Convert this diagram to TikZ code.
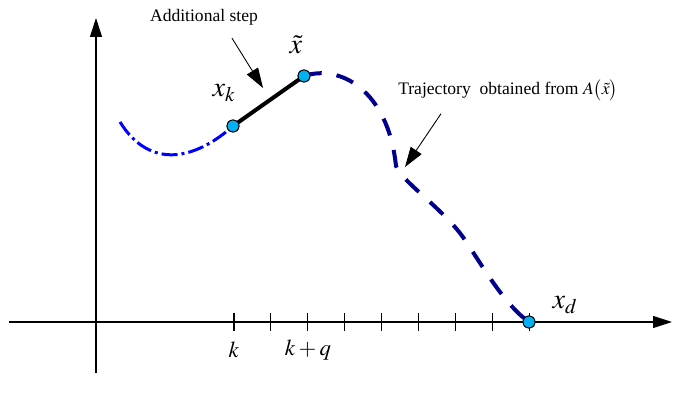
\documentclass[tikz,border=0pt]{standalone}
\usepackage{mathptmx}
\usepackage{fontspec}
\setmainfont{Liberation Serif}
\newfontfamily\notefont{Liberation Serif}
\usetikzlibrary{arrows.meta, positioning, calc}

\definecolor{ptfill}{RGB}{0,176,240}
\definecolor{trajnavy}{RGB}{0,0,140}
\definecolor{trajblue}{RGB}{0,0,255}

\begin{document}
\begin{tikzpicture}[
		x=0.02cm, y=-0.02cm,
		% Estilos
		axis/.style = {line width=0.6pt, -{Triangle[length=0.38cm, width=0.24cm]}},
		tick/.style = {line width=0.6pt},
		point/.style = {draw, fill=ptfill, circle, minimum size=0.24cm, inner sep=0pt, line width=0.5pt},
		traj/.style = {draw=trajnavy, line width=0.08cm, dash pattern=on 0.36cm off 0.3cm},
		prev/.style = {draw=trajblue, line width=0.06cm, dash pattern=on 0.32cm off 0.08cm on 0.06cm off 0.08cm},
		extra/.style = {line width=0.08cm},
		callout/.style = {line width=0.5pt, -{Triangle[length=0.4cm, width=0.26cm]}},
		note/.style = {font=\notefont\fontsize{10}{12}\selectfont},
		mlabel/.style = {font=\fontsize{16}{18}\selectfont},
		klabel/.style = {font=\fontsize{13}{15}\selectfont}
		]
		\useasboundingbox (0,0) rectangle (674,402);
		
		% --- EJES ---
		\coordinate (x_l) at (9,322);
		\coordinate (x_r) at (672,322);
		\coordinate (y_b) at (96,373);
		\coordinate (y_t) at (96,18);
		\draw [axis] (x_l) -- (x_r);
		\draw [axis] (y_b) -- (y_t);
		
		% Marcas del eje
		\foreach \i in {0,...,8}
			\draw [tick] (234+36.9*\i,313) -- (234+36.9*\i,331);
		\node [klabel] (k_lab) at (234,350) {$k$};
		\node [klabel] (kq_lab) at (308,350) {$k+q$};
		
		% --- PUNTOS ---
		\coordinate (start) at (120,122);
		\node [point] (xk) at (233,126) {};
		\node [point] (xt) at (304,76) {};
		\node [point] (xd) at (529,322) {};
		
		% --- TRAYECTORIAS ---
		\draw [prev] (start) .. controls (150,170) and (195,160) .. (xk.center);
		\draw [traj] (xt.center) .. controls (340,64) and (388,90) .. (396,166)
			.. controls (402,182) and (445,210) .. (465,240)
			.. controls (485,270) and (505,305) .. (xd.center);
		\draw [extra] (xk.center) -- (xt.center);
		
		% Puntos encima
		\node [point] at (xk) {};
		\node [point] at (xt) {};
		\node [point] at (xd) {};
		
		% Etiquetas
		\node [mlabel] (xk_lab) at (224,93) {$x_k$};
		\node [mlabel] (xt_lab) at (296,45) {$\tilde{x}$};
		\node [mlabel] (xd_lab) at (565,305) {$x_d$};
		
		% --- ANOTACIONES ---
		\node [note] (step_note) at (204,17) {Additional step};
		\coordinate (step_tip) at (263,88);
		\draw [callout] ([xshift=0.56cm, yshift=-0.14cm]step_note.south) -- (step_tip);
		
		\node [note] (traj_note) at (508,90) {Trajectory\ \ obtained from $A\bigl(\tilde{x}\bigr)$};
		\coordinate (traj_tip) at (405,167);
		\draw [callout] ([xshift=-1.34cm, yshift=-0.14cm]traj_note.south) -- (traj_tip);
		
	\end{tikzpicture}
\end{document}
